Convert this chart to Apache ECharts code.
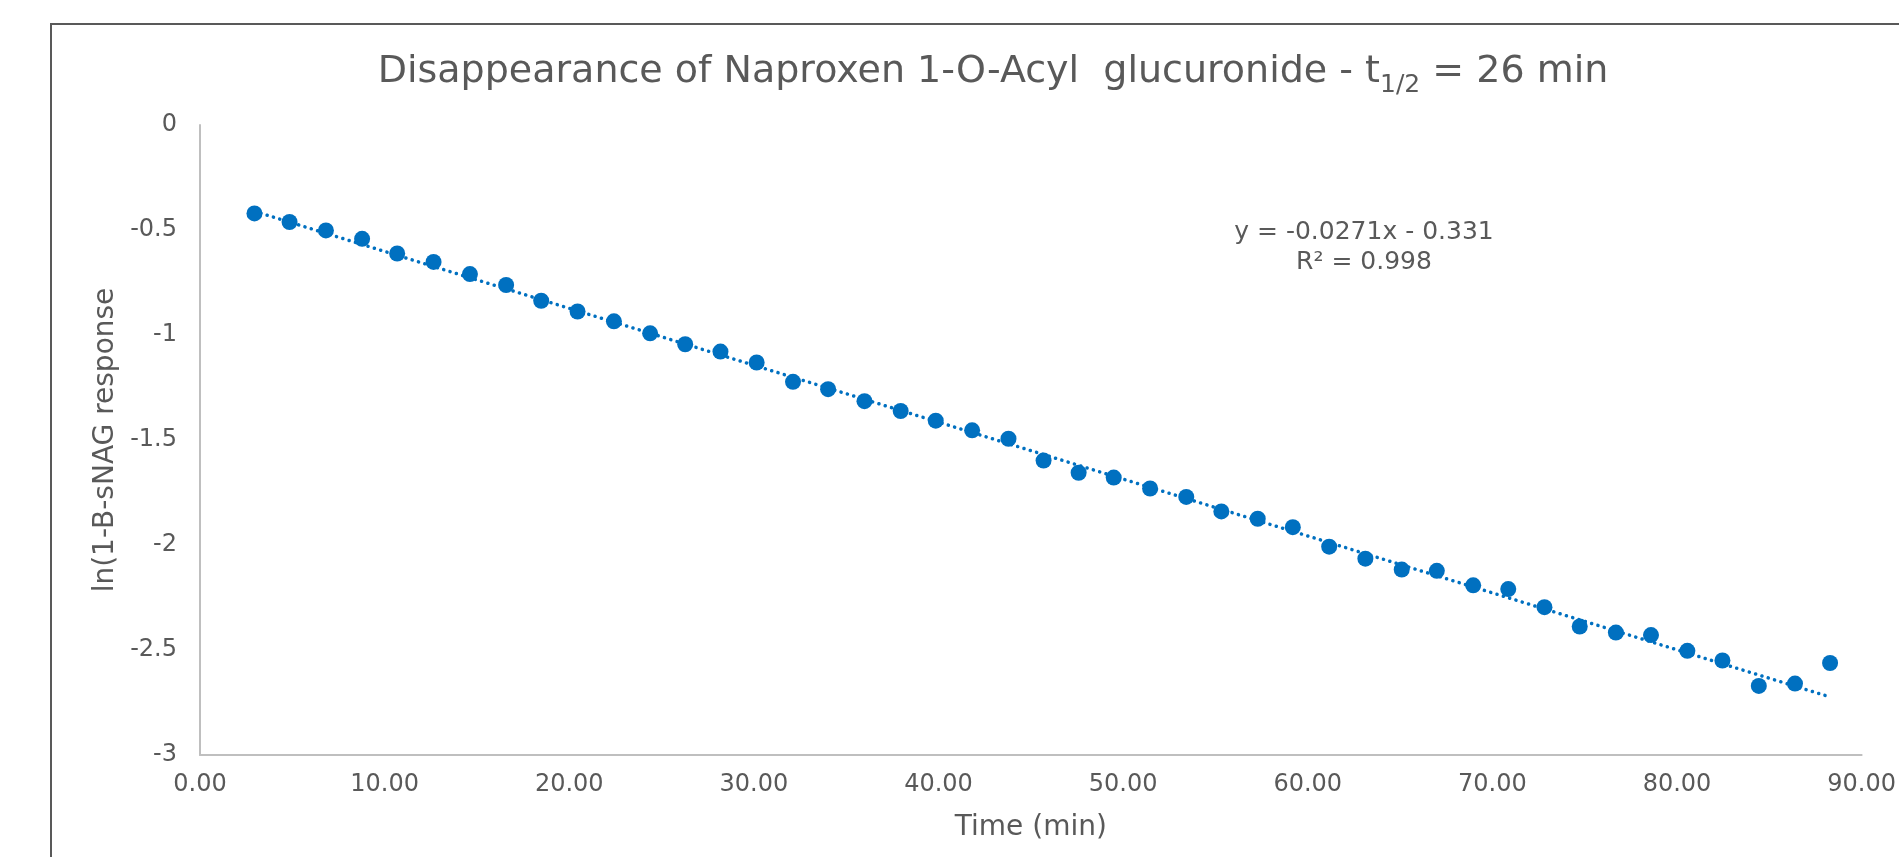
<!DOCTYPE html>
<html>
<head>
<meta charset="utf-8">
<title>Naproxen acyl glucuronide</title>
<script src="https://cdn.jsdelivr.net/npm/echarts@6/dist/echarts.min.js"></script>
<style>
  html, body { margin: 0; padding: 0; background: #fff; }
  #main { width: 1899px; height: 857px; }
</style>
</head>
<body>
<div id="main"></div>
<script>
// sample times (min) and ln(1-B-sNAG response)
const times = [
  2.95, 4.85, 6.82, 8.78, 10.68, 12.65, 14.62, 16.58, 18.48, 20.45,
  22.42, 24.38, 26.28, 28.19, 30.15, 32.12, 34.02, 35.99, 37.95, 39.85,
  41.82, 43.79, 45.69, 47.59, 49.49, 51.46, 53.42, 55.32, 57.29, 59.19,
  61.16, 63.12, 65.09, 66.99, 68.96, 70.86, 72.82, 74.73, 76.69, 78.59,
  80.56, 82.46, 84.43, 86.39, 88.29,
];
const lnResponse = [
  -0.421, -0.462, -0.502, -0.542, -0.612, -0.652, -0.710, -0.762, -0.837, -0.888,
  -0.935, -0.992, -1.044, -1.079, -1.131, -1.223, -1.258, -1.315, -1.362, -1.408,
  -1.454, -1.494, -1.598, -1.656, -1.679, -1.731, -1.771, -1.840, -1.875, -1.915,
  -2.008, -2.065, -2.117, -2.123, -2.192, -2.210, -2.296, -2.388, -2.417, -2.429,
  -2.504, -2.550, -2.671, -2.660, -2.562,
];
// trendline as printed on the chart
const slope = -0.0271;
const intercept = -0.331;
const rSquared = '0.998';

const textColor = '#595959';
const blue = '#0070C0';

let myChart = echarts.init(document.getElementById('main'));

const points = times.map((t, i) => [t, lnResponse[i]]);
const xFirst = times[0];
const xLast = times[times.length - 1];
const trend = [
  [xFirst, slope * xFirst + intercept],
  [xLast, slope * xLast + intercept],
];

const option = {
  backgroundColor: '#fff',
  animation: false,
  grid: {
    left: 200,
    right: 34,
    top: 125,
    bottom: 102,
  },
  xAxis: {
    type: 'value',
    min: 0,
    max: 90,
    interval: 10,
    name: 'Time (min)',
    nameLocation: 'middle',
    nameGap: 59,
    nameTextStyle: {
      color: textColor,
      fontSize: 28,
      fontFamily: 'DejaVu Sans',
    },
    axisLine: {
      show: true,
      onZero: false,
      lineStyle: { color: '#BFBFBF', width: 2 },
    },
    axisTick: { show: false },
    splitLine: { show: false },
    axisLabel: {
      color: textColor,
      fontSize: 24,
      fontFamily: 'DejaVu Sans',
      margin: 18,
      formatter: (v) => v.toFixed(2),
    },
  },
  yAxis: {
    type: 'value',
    min: -3,
    max: 0,
    interval: 0.5,
    name: 'ln(1-B-sNAG response',
    nameLocation: 'middle',
    nameGap: 79,
    nameTextStyle: {
      color: textColor,
      fontSize: 28,
      fontFamily: 'DejaVu Sans',
    },
    axisLine: {
      show: true,
      lineStyle: { color: '#BFBFBF', width: 2 },
    },
    axisTick: { show: false },
    splitLine: { show: false },
    axisLabel: {
      color: textColor,
      fontSize: 24,
      fontFamily: 'DejaVu Sans',
      margin: 23,
    },
  },
  graphic: [
    {
      type: 'rect',
      shape: { x: 51, y: 24, width: 2000, height: 1000 },
      style: { fill: 'none', stroke: '#595959', lineWidth: 2 },
      z: -1,
    },
    {
      type: 'text',
      x: 993,
      y: 72,
      style: {
        text: '{a|Disappearance of Naproxen 1-O-Acyl  glucuronide - t}{s|1/2}{a| = 26 min}',
        align: 'center',
        verticalAlign: 'middle',
        rich: {
          a: { fontSize: 38, lineHeight: 52, fill: textColor, fontFamily: 'DejaVu Sans' },
          s: { fontSize: 25, lineHeight: 25, fill: textColor, fontFamily: 'DejaVu Sans', verticalAlign: 'bottom' },
        },
      },
    },
    {
      type: 'text',
      x: 1364,
      y: 247,
      style: {
        text: 'y = ' + slope + 'x - ' + Math.abs(intercept) + '\nR² = ' + rSquared,
        align: 'center',
        verticalAlign: 'middle',
        fontSize: 25,
        lineHeight: 30,
        fill: textColor,
        fontFamily: 'DejaVu Sans',
      },
    },
  ],
  series: [
    {
      name: 'trend',
      type: 'line',
      data: trend,
      symbol: 'none',
      silent: true,
      z: 1,
      lineStyle: {
        color: blue,
        width: 3.5,
        type: [0.1, 6.5],
        cap: 'round',
      },
    },
    {
      name: 'ln response',
      type: 'scatter',
      data: points,
      symbol: 'circle',
      symbolSize: 16,
      z: 2,
      itemStyle: { color: blue, opacity: 1 },
    },
  ],
};

option && myChart.setOption(option);
</script>
</body>
</html>
